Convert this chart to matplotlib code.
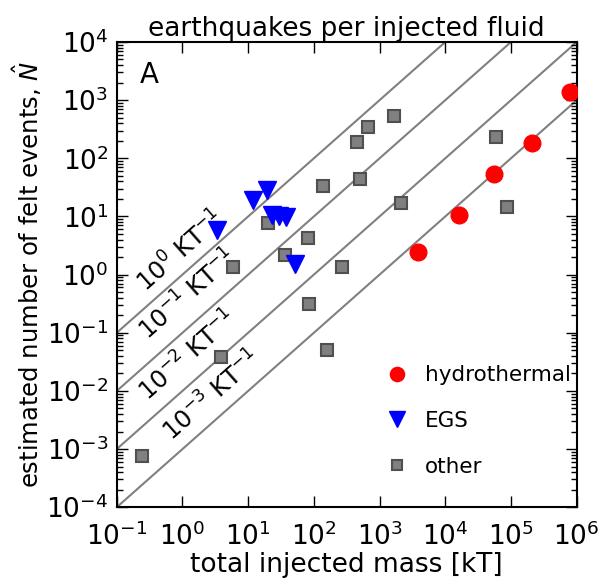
import numpy as np
import matplotlib
matplotlib.use('Agg')
import matplotlib.pyplot as plt

# data (total injected mass [kT], estimated felt events)
hydro_mass = [3900, 16000, 55000, 210000, 790000]
hydro_n = [2.4, 10.5, 53, 185, 1400]

egs_mass = [3.4, 12, 19, 23, 29, 37, 51]
egs_n = [5.8, 19, 29, 10.5, 10, 9.6, 1.55]

other_mass = [0.24, 3.9, 5.9, 20, 36, 80, 84, 138, 158, 270, 460, 510, 670, 1660, 2140, 60000, 87000]
other_n = [0.00076, 0.038, 1.36, 7.8, 2.16, 4.2, 0.31, 33, 0.051, 1.36, 191, 44, 340, 537, 16.8, 229, 14.6]

rates = [1e0, 1e-1, 1e-2, 1e-3]
rate_labels = [r'$10^{0}\ \mathrm{KT}^{-1}$', r'$10^{-1}\ \mathrm{KT}^{-1}$',
               r'$10^{-2}\ \mathrm{KT}^{-1}$', r'$10^{-3}\ \mathrm{KT}^{-1}$']
label_pos = [(0.95, 2.5), (1.2, 0.45), (1.2, 0.04), (2.8, 0.0082)]

fig = plt.figure(figsize=(6.02, 5.83), dpi=100)
ax = fig.add_axes([0.194, 0.130, 0.764, 0.798])

xmin, xmax = 1e-1, 1e6
ymin, ymax = 1e-4, 1e4
xl = np.array([xmin, xmax])
for r in rates:
    ax.plot(xl, r * xl, color='#808080', lw=1.5, zorder=1)

# angle of the lines on screen
ang = np.degrees(np.arctan((465 / 8) / (460 / 7)))
for lab, (tx, ty) in zip(rate_labels, label_pos):
    ax.text(tx, ty, lab, rotation=ang, rotation_mode='anchor', ha='center', va='center',
            fontsize=17.5)

ax.plot(other_mass, other_n, 's', color='#808080', mec='#505050', mew=1.5, ms=9,
        label='other', zorder=3)
ax.plot(egs_mass, egs_n, 'v', color='blue', mec='blue', ms=13, label='EGS', zorder=4)
ax.plot(hydro_mass, hydro_n, 'o', color='red', mec='red', ms=12, label='hydrothermal', zorder=5)

ax.set_xscale('log')
ax.set_yscale('log')
ax.set_xlim(xmin, xmax)
ax.set_ylim(ymin, ymax)
ax.set_xticks([10.0 ** k for k in range(-1, 7)])
ax.set_yticks([10.0 ** k for k in range(-4, 5)])
ax.tick_params(which='both', direction='in', top=True, right=True, labelsize=19, width=1)
ax.tick_params(which='major', length=8)
ax.tick_params(which='minor', length=4)
ax.tick_params(axis='x', which='major', pad=11)
ax.tick_params(axis='y', which='major', pad=6)
for s in ax.spines.values():
    s.set_linewidth(1.5)

ax.set_xlabel('total injected mass [kT]', fontsize=19, labelpad=1)
ax.set_ylabel(r'estimated number of felt events, $\hat{N}$', fontsize=17.5, labelpad=2)
ax.set_title('earthquakes per injected fluid', fontsize=19, pad=4)
ax.text(0.05, 0.93, 'A', transform=ax.transAxes, fontsize=20, va='center')

h, l = ax.get_legend_handles_labels()
order = [2, 1, 0]
ax.legend([h[i] for i in order], [l[i] for i in order], loc='lower right', frameon=False,
          numpoints=1, markerscale=0.85, fontsize=15.5, labelspacing=1.2,
          handletextpad=0.3, borderaxespad=0, bbox_to_anchor=(1.006, 0.047))

fig.savefig('out.png', dpi=100)
